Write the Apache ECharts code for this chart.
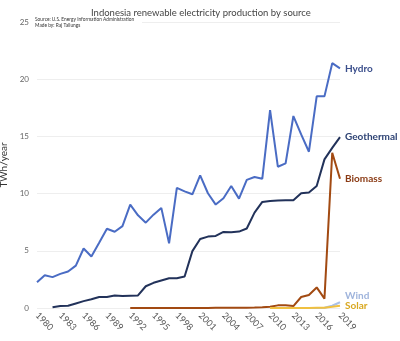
<!DOCTYPE html>
<html><head><meta charset="utf-8">
<script src="https://cdn.jsdelivr.net/npm/echarts@6/dist/echarts.min.js"></script>
<style>html,body{margin:0;padding:0;background:#fff}#c{width:400px;height:341px}</style>
</head><body><div id="c"></div>
<script>
const years = [];
for (let y = 1980; y <= 2019; y++) years.push(String(y));
const hydro = [2.25,2.87,2.7,2.98,3.19,3.7,5.2,4.5,5.7,6.93,6.67,7.16,9.03,8.1,7.46,8.16,8.75,5.66,10.5,10.2,9.94,11.6,10.03,9.04,9.6,10.67,9.56,11.2,11.45,11.3,17.3,12.35,12.64,16.78,15.17,13.66,18.5,18.5,21.4,20.95];
const geothermal = [null,null,0.06,0.18,0.2,0.4,0.6,0.76,0.96,0.96,1.1,1.05,1.08,1.1,1.9,2.2,2.4,2.6,2.6,2.75,4.97,6.03,6.24,6.3,6.65,6.62,6.68,6.95,8.34,9.27,9.36,9.39,9.42,9.42,10.03,10.1,10.67,12.99,14.0,14.94];
const biomass = [null,null,null,null,null,null,null,null,null,null,null,null,0.01,0.01,0.01,0.01,0.01,0.01,0.01,0.01,0.01,0.01,0.01,0.02,0.02,0.02,0.03,0.03,0.04,0.06,0.1,0.23,0.23,0.17,0.96,1.14,1.8,0.82,13.57,11.3];
const wind = [null,null,null,null,null,null,null,null,null,null,null,null,null,null,null,null,null,null,null,null,null,null,null,null,null,null,null,null,null,null,0,0,0,0,0,0,0.01,0.02,0.2,0.5];
const solar = [null,null,null,null,null,null,null,null,null,null,null,null,null,null,null,null,null,null,null,null,null,null,null,null,null,null,null,null,null,null,0,0,0,0.01,0.01,0.01,0.02,0.02,0.1,0.2];
const yTicks = [0,5,10,15,20,25];

const chart = echarts.init(document.getElementById('c'), null, {renderer:'canvas'});
const FONT = 'Lato';
function ser(name, data, color, labelColor, offset){
  return {
    name, type:'line', data, symbol:'none', connectNulls:false,
    lineStyle:{color, width:2}, itemStyle:{color},
    endLabel:{show:true, formatter:'{a}', color:labelColor, fontFamily:FONT, fontWeight:'bold', fontSize:10, distance:5, offset: offset||[0,0]},
    emphasis:{disabled:true}
  };
}
chart.setOption({
  animation:false,
  backgroundColor:'#fff',
  title:{text:'Indonesia renewable electricity production by source', left:86, top:3,
    textStyle:{fontFamily:FONT, fontSize:9.5, fontWeight:'normal', color:'#444'}},
  grid:{left:37, right:60, top:22, bottom:33, containLabel:false, outerBoundsMode:'none'},
  xAxis:{type:'category', data:years, boundaryGap:false,
    axisLine:{show:false}, axisTick:{show:false},
    axisLabel:{interval:2, rotate:-45, fontFamily:FONT, fontSize:9, color:'#555', margin:6}},
  yAxis:{type:'value', min:0, max:25, interval:5,
    name:'TWh/year', nameLocation:'middle', nameGap:20,
    nameTextStyle:{fontFamily:FONT, fontSize:10, color:'#333'},
    axisLine:{show:false}, axisTick:{show:false},
    axisLabel:{fontFamily:FONT, fontSize:8, color:'#666', margin:8,
      formatter:v=> yTicks.includes(v)? String(v):''},
    splitLine:{lineStyle:{color:'#eeeeee', width:1}}},
  series:[
    ser('Hydro', hydro, '#4a6cc4', '#3b4f8c'),
    ser('Geothermal', geothermal, '#22325a', '#2e4374'),
    ser('Biomass', biomass, '#a24a12', '#8a3a14'),
    ser('Wind', wind, '#a9c0e8', '#9fb4dc', [0,-6]),
    ser('Solar', solar, '#f0c040', '#d9a820', [0,0])
  ],
  graphic:[
    {type:'rect', left:34, top:16, shape:{width:108, height:12}, style:{fill:'#fff'}, z:10},
    {type:'text', left:35, top:16, z:11, style:{text:'Source: U.S. Energy Information Administration\nMade by: Raj Tallungs', fontFamily:FONT, fontSize:4.8, lineHeight:6, fill:'#333'}}
  ]
});
</script></body></html>
